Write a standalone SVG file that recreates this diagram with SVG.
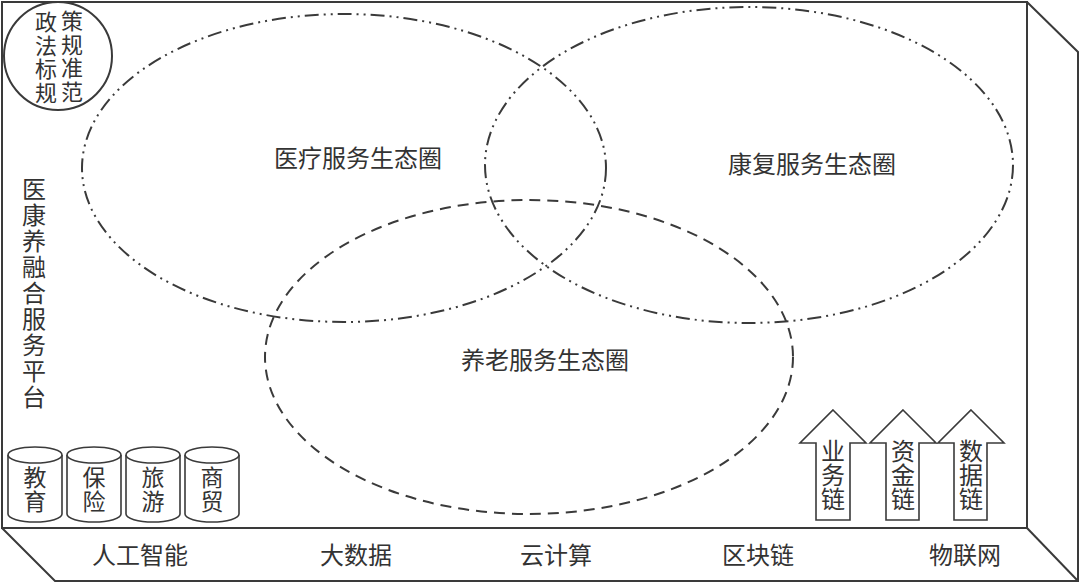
<svg xmlns="http://www.w3.org/2000/svg" width="1080" height="583" viewBox="0 0 1080 583">
<style>
.ln{fill:none;stroke:#3a3a3a;stroke-width:2}
.dd{fill:none;stroke:#3a3a3a;stroke-width:2;stroke-dasharray:14 5 2 5 2 5}
.ds{fill:none;stroke:#3a3a3a;stroke-width:2;stroke-dasharray:11 7}
.sh{fill:#fff;stroke:#3a3a3a;stroke-width:1.6}
text{font-family:"Noto Sans CJK SC","Noto Sans CJK JP",sans-serif;fill:#333;text-anchor:middle}
.t24{font-size:24px}
.v{writing-mode:vertical-rl;text-anchor:middle}
.c22{font-size:22px;letter-spacing:1.5px}
.p24{font-size:24px;letter-spacing:2px}
.s23{font-size:23px;letter-spacing:1px}
.a24{font-size:24px;letter-spacing:0px}
</style>
<rect width="1080" height="583" fill="#fff"/>
<g id="box">
<rect class="ln" x="2" y="2" width="1025" height="526"/>
<polyline class="ln" points="1027,2 1078,52 1078,581 55,581 2,528"/>
<line class="ln" x1="1027" y1="528" x2="1078" y2="581"/>
</g>
<g id="ecosystems">
<ellipse id="medical" class="dd" cx="344" cy="168" rx="262" ry="154"/>
<ellipse id="rehab" class="dd" cx="749" cy="165" rx="264" ry="158"/>
<ellipse id="elderly" class="ds" cx="529" cy="357" rx="264" ry="157"/>
<text class="t24" x="358" y="167">医疗服务生态圈</text>
<text class="t24" x="812" y="173">康复服务生态圈</text>
<text class="t24" x="545" y="369">养老服务生态圈</text>
</g>
<g id="policy">
<circle class="ln" cx="58" cy="56" r="54"/>
<text class="v c22" x="46" y="58">政法标规</text>
<text class="v c22" x="72" y="57">策规准范</text>
</g>
<g id="platform">
<text class="v p24" x="34" y="294">医康养融合服务平台</text>
</g>
<g id="industries">
<g id="edu">
<path class="sh" d="M8,455 V514 A27,8 0 0 0 62,514 V455"/>
<ellipse class="sh" cx="35" cy="455" rx="27" ry="8"/>
<text class="v s23" x="35" y="490">教育</text>
</g>
<g id="ins">
<path class="sh" d="M67,455 V514 A27,8 0 0 0 121,514 V455"/>
<ellipse class="sh" cx="94" cy="455" rx="27" ry="8"/>
<text class="v s23" x="94" y="490">保险</text>
</g>
<g id="tour">
<path class="sh" d="M126,455 V514 A27,8 0 0 0 180,514 V455"/>
<ellipse class="sh" cx="153" cy="455" rx="27" ry="8"/>
<text class="v s23" x="153" y="490">旅游</text>
</g>
<g id="trade">
<path class="sh" d="M185,455 V514 A27,8 0 0 0 239,514 V455"/>
<ellipse class="sh" cx="212" cy="455" rx="27" ry="8"/>
<text class="v s23" x="212" y="490">商贸</text>
</g>
</g>
<g id="chains">
<g id="biz">
<polygon class="sh" points="833,410 866,443 850,443 850,520 816,520 816,443 800,443"/>
<text class="v a24" x="833" y="475">业务链</text>
</g>
<g id="fund">
<polygon class="sh" points="903,410 936,443 919,443 919,520 886,520 886,443 870,443"/>
<text class="v a24" x="903" y="475">资金链</text>
</g>
<g id="data">
<polygon class="sh" points="971,410 1004,443 987,443 987,520 954,520 954,443 938,443"/>
<text class="v a24" x="971" y="475">数据链</text>
</g>
</g>
<g id="tech">
<text class="t24" x="140" y="564">人工智能</text>
<text class="t24" x="356" y="564">大数据</text>
<text class="t24" x="556" y="564">云计算</text>
<text class="t24" x="758" y="564">区块链</text>
<text class="t24" x="965" y="564">物联网</text>
</g>
</svg>
